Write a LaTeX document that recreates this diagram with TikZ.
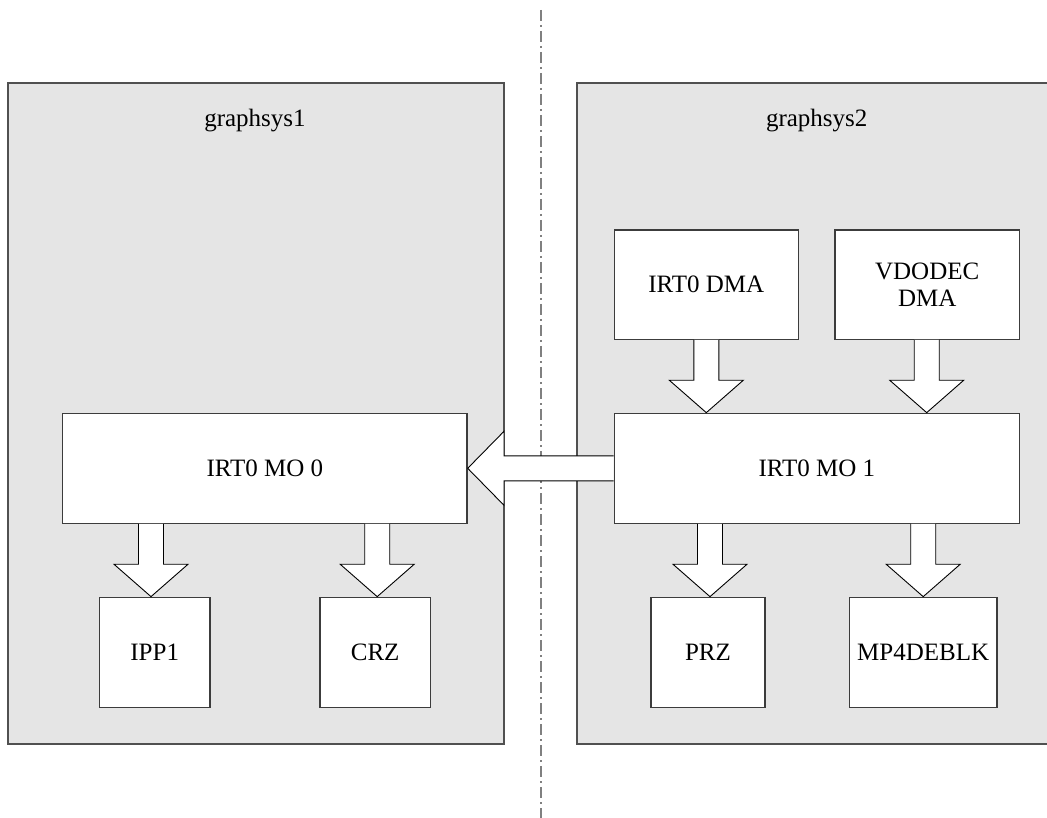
\documentclass[tikz,border=0pt]{standalone}
\usepackage{fontspec}
\setmainfont{Liberation Serif}
\usetikzlibrary{calc}
\definecolor{panelfill}{RGB}{229,229,229}
\definecolor{panelline}{RGB}{80,80,80}
\definecolor{boxline}{RGB}{60,60,60}
\definecolor{sepline}{RGB}{128,128,128}
\tikzset{
  panel/.style={fill=panelfill, draw=panelline, line width=2pt},
  blockbox/.style={draw=boxline, fill=white, line width=1.3pt, inner sep=0pt, align=center,
    font=\fontsize{25}{27.6}\selectfont},
  paneltitle/.style={anchor=base, inner sep=0pt, font=\fontsize{25}{27.6}\selectfont},
  fatarrow/.style={draw=black, fill=white, line width=0.9pt, line join=miter},
  sepstyle/.style={draw=sepline, line width=2pt, dash pattern=on 11pt off 4pt on 2pt off 4pt}
}
% down block arrow from bottom of #3 to top of #4, centred on x of node #2 shifted by #1
\newcommand\fatdown[4][0pt]{%
  \path[fatarrow] let \p3=($(#2.center)+(#1,0)$), \p1=(#4.north), \p2=(#3.south) in
    (\x3-12.5pt,\y2) -- (\x3-12.5pt,\y1+32.4pt) -- (\x3-37pt,\y1+32.4pt) -- (\x3,\y1)
    -- (\x3+37pt,\y1+32.4pt) -- (\x3+12.5pt,\y1+32.4pt) -- (\x3+12.5pt,\y2);
}
\begin{document}
\begin{tikzpicture}[x=1pt,y=-1pt]
\useasboundingbox (0,0) rectangle (1047,818);
\clip (0,0) rectangle (1047,818);
\fill[white] (0,0) rectangle (1047,818);

% separator
\coordinate (septop) at (540.5,10);
\coordinate (sepbot) at (540.5,818);
\draw[sepstyle] (septop) -- (sepbot);

% panels
\path[panel] (7.5,83) rectangle (504,744);
\path[panel] (577.3,83) rectangle (1060,743.5);
\node[paneltitle] (t1) at (255,127) {graphsys1};
\node[paneltitle] (t2) at (816.7,127) {graphsys2};

% boxes
\node[blockbox, minimum width=404.3pt, minimum height=110pt] (mo0) at (264.9,468.3) {IRT0 MO 0};
\node[blockbox, minimum width=405pt, minimum height=110pt] (mo1) at (816.8,468.3) {IRT0 MO 1};
\node[blockbox, minimum width=110.7pt, minimum height=110pt] (ipp) at (154.7,652.3) {IPP1};
\node[blockbox, minimum width=110.3pt, minimum height=110pt] (crz) at (375.2,652.3) {CRZ};
\node[blockbox, minimum width=114pt, minimum height=110pt] (prz) at (708,652.3) {PRZ};
\node[blockbox, minimum width=147.7pt, minimum height=110pt] (mp4) at (923.2,652.3) {MP4DEBLK};
\node[blockbox, minimum width=184pt, minimum height=109.3pt] (dma) at (706.3,284.6) {IRT0 DMA};
\node[blockbox, minimum width=184.3pt, minimum height=109.3pt] (vdo) at (927.2,284.6) {VDODEC\\DMA};

% block arrows
\fatdown[-3.7pt]{ipp}{mo0}{ipp}
\fatdown[2pt]{crz}{mo0}{crz}
\fatdown[2pt]{prz}{mo1}{prz}
\fatdown{mp4}{mo1}{mp4}
\fatdown{dma}{dma}{mo1}
\fatdown[-0.5pt]{vdo}{vdo}{mo1}

% horizontal block arrow from mo1 to mo0
\path[fatarrow] let \p1=(mo0.east), \p2=(mo1.west) in
  (\x2,\y1+12.5pt) -- (\x1+36.3pt,\y1+12.5pt) -- (\x1+36.3pt,\y1+37pt) -- (\x1,\y1)
  -- (\x1+36.3pt,\y1-37pt) -- (\x1+36.3pt,\y1-12.5pt) -- (\x2,\y1-12.5pt);
\end{tikzpicture}
\end{document}
